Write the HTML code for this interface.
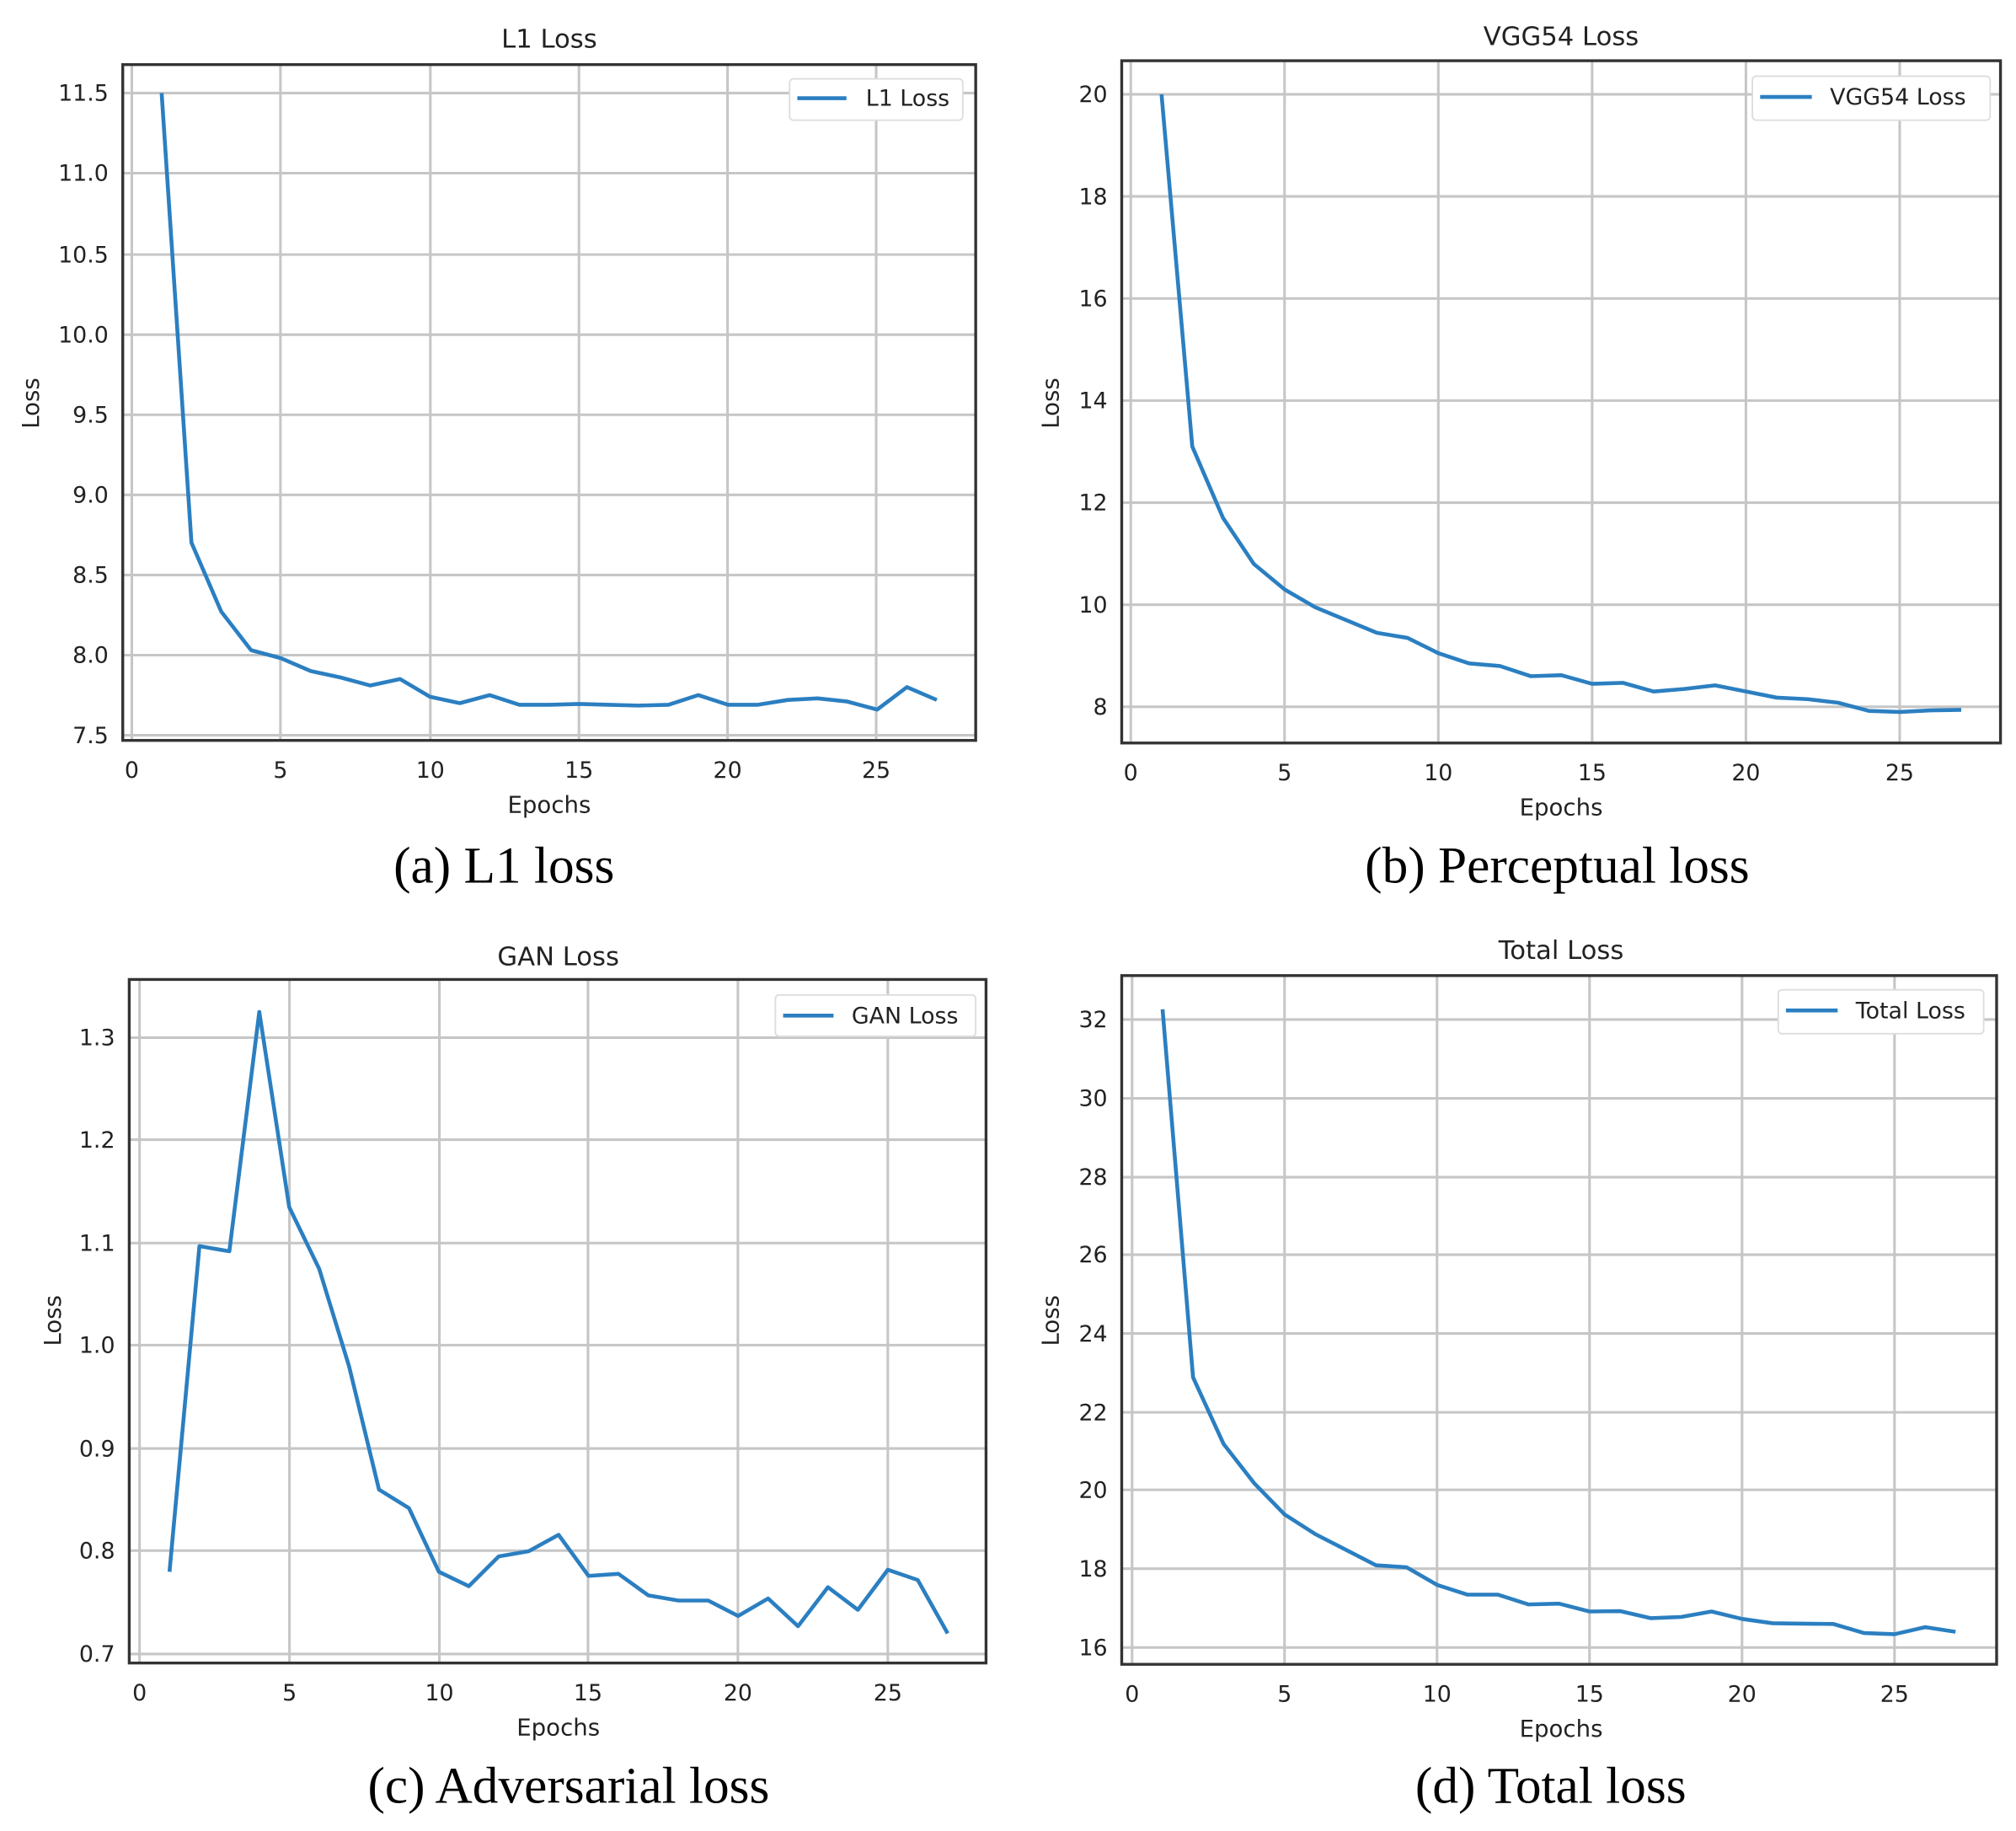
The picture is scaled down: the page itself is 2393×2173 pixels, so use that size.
<!DOCTYPE html>
<html><head><meta charset="utf-8"><style>
html,body{margin:0;padding:0;background:#fff;}
svg{display:block;}
.t{font-family:"DejaVu Sans","Liberation Sans",sans-serif;fill:#222;}
.tk{font-size:17.5px;}
.ti{font-size:20px;text-anchor:middle;}
.lb{font-size:18px;text-anchor:middle;}
.cap{font-family:"Liberation Serif",serif;font-size:40px;text-anchor:middle;fill:#000;}
.g{stroke:#c6c6c6;stroke-width:2;}
.fr{fill:none;stroke:#333;stroke-width:2.2;}
.ln{fill:none;stroke:#2b7fc1;stroke-width:4.6;stroke-linejoin:round;}
.lg{fill:#fff;stroke:#ddd;stroke-width:1.2;}
</style></head><body>
<svg width="2393" height="2173" viewBox="0 0 1560 1417" preserveAspectRatio="none" xmlns="http://www.w3.org/2000/svg">
<rect width="1560" height="1417" fill="#fff"/>

<!-- Panel A -->
<g>
<g class="g">
<line x1="102" y1="50" x2="102" y2="573"/><line x1="217" y1="50" x2="217" y2="573"/><line x1="333" y1="50" x2="333" y2="573"/><line x1="448" y1="50" x2="448" y2="573"/><line x1="563" y1="50" x2="563" y2="573"/><line x1="678" y1="50" x2="678" y2="573"/>
<line x1="95" y1="72" x2="755" y2="72"/><line x1="95" y1="134" x2="755" y2="134"/><line x1="95" y1="197" x2="755" y2="197"/><line x1="95" y1="259" x2="755" y2="259"/><line x1="95" y1="321" x2="755" y2="321"/><line x1="95" y1="383" x2="755" y2="383"/><line x1="95" y1="445" x2="755" y2="445"/><line x1="95" y1="507" x2="755" y2="507"/><line x1="95" y1="569" x2="755" y2="569"/>
</g>
<rect class="fr" x="95" y="50" width="660" height="523"/>
<g class="t tk" text-anchor="end">
<text x="84" y="78">11.5</text><text x="84" y="140">11.0</text><text x="84" y="203">10.5</text><text x="84" y="265">10.0</text><text x="84" y="327">9.5</text><text x="84" y="389">9.0</text><text x="84" y="451">8.5</text><text x="84" y="513">8.0</text><text x="84" y="575">7.5</text>
</g>
<g class="t tk" text-anchor="middle">
<text x="102" y="602">0</text><text x="217" y="602">5</text><text x="333" y="602">10</text><text x="448" y="602">15</text><text x="563" y="602">20</text><text x="678" y="602">25</text>
</g>
<text class="t ti" x="425" y="37">L1 Loss</text>
<text class="t lb" x="425" y="629">Epochs</text>
<text class="t lb" transform="translate(30,312) rotate(-90)">Loss</text>
<polyline class="ln" vector-effect="non-scaling-stroke" transform="matrix(23.07 0 0 -124.25 102 1500.9)" points="1,11.5 2,8.7 3,8.27 4,8.03 5,7.98 6,7.9 7,7.86 8,7.81 9,7.85 10,7.74 11,7.70 12,7.75 13,7.69 14,7.69 15,7.695 16,7.69 17,7.685 18,7.69 19,7.75 20,7.69 21,7.69 22,7.72 23,7.73 24,7.71 25,7.66 26,7.80 27,7.72"/>
<rect class="lg" x="611" y="61" width="134" height="32" rx="3"/>
<line x1="617" y1="76" x2="655" y2="76" stroke="#2b7fc1" stroke-width="3"/>
<text class="t tk" x="670" y="82">L1 Loss</text>
<text class="cap" x="390" y="683">(a) L1 loss</text>
</g>

<!-- Panel B -->
<g>
<g class="g">
<line x1="875" y1="47" x2="875" y2="575"/><line x1="994" y1="47" x2="994" y2="575"/><line x1="1113" y1="47" x2="1113" y2="575"/><line x1="1232" y1="47" x2="1232" y2="575"/><line x1="1351" y1="47" x2="1351" y2="575"/><line x1="1470" y1="47" x2="1470" y2="575"/>
<line x1="868" y1="73" x2="1548" y2="73"/><line x1="868" y1="152" x2="1548" y2="152"/><line x1="868" y1="231" x2="1548" y2="231"/><line x1="868" y1="310" x2="1548" y2="310"/><line x1="868" y1="389" x2="1548" y2="389"/><line x1="868" y1="468" x2="1548" y2="468"/><line x1="868" y1="547" x2="1548" y2="547"/>
</g>
<rect class="fr" x="868" y="47" width="680" height="528"/>
<g class="t tk" text-anchor="end">
<text x="857" y="79">20</text><text x="857" y="158">18</text><text x="857" y="237">16</text><text x="857" y="316">14</text><text x="857" y="395">12</text><text x="857" y="474">10</text><text x="857" y="553">8</text>
</g>
<g class="t tk" text-anchor="middle">
<text x="875" y="604">0</text><text x="994" y="604">5</text><text x="1113" y="604">10</text><text x="1232" y="604">15</text><text x="1351" y="604">20</text><text x="1470" y="604">25</text>
</g>
<text class="t ti" x="1208" y="35">VGG54 Loss</text>
<text class="t lb" x="1208" y="631">Epochs</text>
<text class="t lb" transform="translate(819,312) rotate(-90)">Loss</text>
<polyline class="ln" vector-effect="non-scaling-stroke" transform="matrix(23.8 0 0 -39.5 875 863)" points="1,20.0 2,13.1 3,11.7 4,10.8 5,10.3 6,9.95 7,9.7 8,9.45 9,9.35 10,9.05 11,8.85 12,8.8 13,8.6 14,8.62 15,8.45 16,8.47 17,8.3 18,8.35 19,8.42 20,8.3 21,8.18 22,8.15 23,8.08 24,7.92 25,7.9 26,7.93 27,7.94"/>
<rect class="lg" x="1356" y="59" width="184" height="34" rx="3"/>
<line x1="1362" y1="75" x2="1402" y2="75" stroke="#2b7fc1" stroke-width="3"/>
<text class="t tk" x="1416" y="81">VGG54 Loss</text>
<text class="cap" x="1205" y="683">(b) Perceptual loss</text>
</g>

<!-- Panel C -->
<g>
<g class="g">
<line x1="108" y1="758" x2="108" y2="1287"/><line x1="224" y1="758" x2="224" y2="1287"/><line x1="340" y1="758" x2="340" y2="1287"/><line x1="455" y1="758" x2="455" y2="1287"/><line x1="571" y1="758" x2="571" y2="1287"/><line x1="687" y1="758" x2="687" y2="1287"/>
<line x1="100" y1="803" x2="763" y2="803"/><line x1="100" y1="882" x2="763" y2="882"/><line x1="100" y1="962" x2="763" y2="962"/><line x1="100" y1="1041" x2="763" y2="1041"/><line x1="100" y1="1121" x2="763" y2="1121"/><line x1="100" y1="1200" x2="763" y2="1200"/><line x1="100" y1="1280" x2="763" y2="1280"/>
</g>
<rect class="fr" x="100" y="758" width="663" height="529"/>
<g class="t tk" text-anchor="end">
<text x="89" y="809">1.3</text><text x="89" y="888">1.2</text><text x="89" y="968">1.1</text><text x="89" y="1047">1.0</text><text x="89" y="1127">0.9</text><text x="89" y="1206">0.8</text><text x="89" y="1286">0.7</text>
</g>
<g class="t tk" text-anchor="middle">
<text x="108" y="1316">0</text><text x="224" y="1316">5</text><text x="340" y="1316">10</text><text x="455" y="1316">15</text><text x="571" y="1316">20</text><text x="687" y="1316">25</text>
</g>
<text class="t ti" x="432" y="747">GAN Loss</text>
<text class="t lb" x="432" y="1343">Epochs</text>
<text class="t lb" transform="translate(47,1022) rotate(-90)">Loss</text>
<polyline class="ln" vector-effect="non-scaling-stroke" transform="matrix(23.16 0 0 -795 108 1836.5)" points="1,0.78 2,1.097 3,1.092 4,1.325 5,1.135 6,1.075 7,0.98 8,0.86 9,0.842 10,0.78 11,0.766 12,0.795 13,0.80 14,0.816 15,0.776 16,0.778 17,0.757 18,0.752 19,0.752 20,0.737 21,0.754 22,0.727 23,0.765 24,0.743 25,0.782 26,0.772 27,0.72"/>
<rect class="lg" x="600" y="770" width="155" height="32" rx="3"/>
<line x1="606" y1="786" x2="645" y2="786" stroke="#2b7fc1" stroke-width="3"/>
<text class="t tk" x="659" y="792">GAN Loss</text>
<text class="cap" x="440" y="1395">(c) Adversarial loss</text>
</g>

<!-- Panel D -->
<g>
<g class="g">
<line x1="876" y1="755" x2="876" y2="1288"/><line x1="994" y1="755" x2="994" y2="1288"/><line x1="1112" y1="755" x2="1112" y2="1288"/><line x1="1230" y1="755" x2="1230" y2="1288"/><line x1="1348" y1="755" x2="1348" y2="1288"/><line x1="1466" y1="755" x2="1466" y2="1288"/>
<line x1="868" y1="789" x2="1545" y2="789"/><line x1="868" y1="850" x2="1545" y2="850"/><line x1="868" y1="911" x2="1545" y2="911"/><line x1="868" y1="971" x2="1545" y2="971"/><line x1="868" y1="1032" x2="1545" y2="1032"/><line x1="868" y1="1093" x2="1545" y2="1093"/><line x1="868" y1="1153" x2="1545" y2="1153"/><line x1="868" y1="1214" x2="1545" y2="1214"/><line x1="868" y1="1275" x2="1545" y2="1275"/>
</g>
<rect class="fr" x="868" y="755" width="677" height="533"/>
<g class="t tk" text-anchor="end">
<text x="857" y="795">32</text><text x="857" y="856">30</text><text x="857" y="917">28</text><text x="857" y="977">26</text><text x="857" y="1038">24</text><text x="857" y="1099">22</text><text x="857" y="1159">20</text><text x="857" y="1220">18</text><text x="857" y="1281">16</text>
</g>
<g class="t tk" text-anchor="middle">
<text x="876" y="1317">0</text><text x="994" y="1317">5</text><text x="1112" y="1317">10</text><text x="1230" y="1317">15</text><text x="1348" y="1317">20</text><text x="1466" y="1317">25</text>
</g>
<text class="t ti" x="1208" y="742">Total Loss</text>
<text class="t lb" x="1208" y="1344">Epochs</text>
<text class="t lb" transform="translate(819,1022) rotate(-90)">Loss</text>
<polyline class="ln" vector-effect="non-scaling-stroke" transform="matrix(23.6 0 0 -30.3 876 1759.8)" points="1,32.3 2,22.9 3,21.2 4,20.2 5,19.4 6,18.9 7,18.5 8,18.1 9,18.05 10,17.6 11,17.35 12,17.35 13,17.1 14,17.12 15,16.92 16,16.93 17,16.75 18,16.78 19,16.92 20,16.73 21,16.62 22,16.61 23,16.6 24,16.37 25,16.34 26,16.52 27,16.4"/>
<rect class="lg" x="1376" y="766" width="159" height="34" rx="3"/>
<line x1="1382" y1="782" x2="1422" y2="782" stroke="#2b7fc1" stroke-width="3"/>
<text class="t tk" x="1436" y="788">Total Loss</text>
<text class="cap" x="1200" y="1395">(d) Total loss</text>
</g>
</svg>
</body></html>
